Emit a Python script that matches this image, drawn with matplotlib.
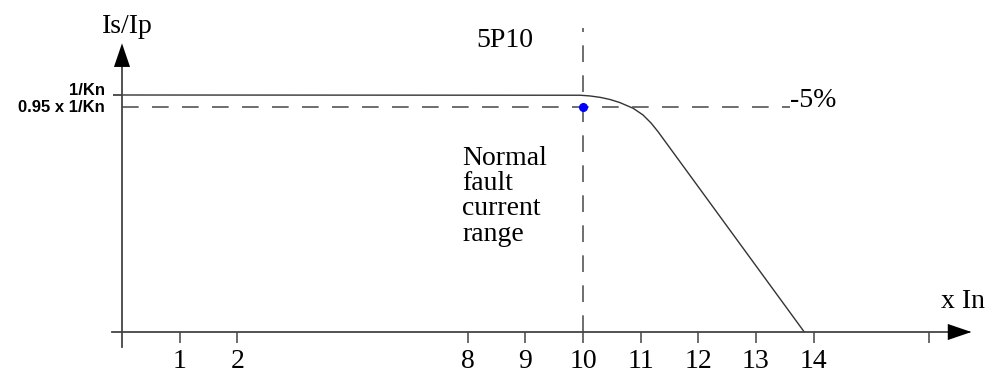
import numpy as np
import matplotlib.pyplot as plt

# saturation curve of a 5P10 CT, x in multiples of In, y in units of 1/Kn
curve_x = [0.0, 9.95, 10.12, 10.30, 10.47, 10.64, 10.87, 11.04, 11.18, 11.30, 13.84]
curve_y = [1.0, 0.999, 0.996, 0.990, 0.981, 0.968, 0.944, 0.916, 0.882, 0.846, 0.0]

tick_vals = [1, 2, 8, 9, 10, 11, 12, 13, 14, 16]
tick_labels = ["1", "2", "8", "9", "10", "11", "12", "13", "14", ""]

limit_x = 10        # 5P10 accuracy limit
limit_y = 0.95      # -5 %
dash_end_x = 13.59


def to_axis(x):
    # broken axis: 3..7 are left out
    x = np.asarray(x, dtype=float)
    return np.where(x <= 2, x, x - 2)


serif = "Liberation Serif"
sans = "Liberation Sans"
axis_col = "#444444"

fig = plt.figure(figsize=(9.9, 3.74), dpi=100)
ax = fig.add_axes([0, 0, 1, 1])
ax.set_xlim(-122 / 57.625, 868 / 57.625)
ax.set_ylim(-42 / 237, 332 / 237)

# axes through the origin
for s in ["top", "right"]:
    ax.spines[s].set_visible(False)
ax.spines["bottom"].set_position(("data", 0))
ax.spines["left"].set_position(("data", 0))
ax.spines["bottom"].set_bounds(-0.17, 14.7)
ax.spines["left"].set_bounds(-0.063, 1.2)
for s in ["bottom", "left"]:
    ax.spines[s].set_color(axis_col)
    ax.spines[s].set_linewidth(1.3)

ax.set_xticks(to_axis(tick_vals))
ax.set_xticklabels(tick_labels, fontfamily=serif, fontsize=20)
ax.tick_params(axis="x", direction="out", length=8, width=1.1, color=axis_col, pad=4)
ax.set_yticks([1])
ax.set_yticklabels([""])
ax.tick_params(axis="y", direction="out", length=6.5, width=1.1, color="#222222")

# arrow heads
arrow = dict(arrowstyle="-|>,head_length=1.7,head_width=0.58", mutation_scale=10,
             color="black", shrinkA=0, shrinkB=0, lw=0)
ax.annotate("", xy=(14.74, 0), xytext=(14.32, 0), arrowprops=arrow)
ax.annotate("", xy=(0, 1.218), xytext=(0, 1.12), arrowprops=arrow)

# curve
ax.plot(to_axis(curve_x), curve_y, color="#333333", lw=1.0)

# reference dashed lines
dash = (0, (10, 8))
ax.plot(to_axis([limit_x, limit_x]), [0, 1.283], color="#555555", lw=1.2, ls=dash)
ax.plot(to_axis([0, dash_end_x]), [limit_y, limit_y], color="#555555", lw=1.2, ls=dash)
ax.plot(to_axis([limit_x]), [limit_y], "o", color="#0000ff", ms=5.5)

# texts
ax.text(0.1, 1.291, "Is/Ip", fontfamily=serif, fontsize=20, ha="center", va="center")
ax.text(to_axis(9.13), 1.23, "5P10", fontfamily=serif, fontsize=20, ha="right", va="center")
ax.text(to_axis(dash_end_x), 0.975, "-5%", fontfamily=serif, fontsize=20, ha="left", va="center")
ax.text(to_axis(7.9), 0.785, "Normal\nfault\ncurrent\nrange", fontfamily=serif, fontsize=20,
        ha="left", va="top", linespacing=1.01)
ax.text(to_axis(16.6), 0.127, "x In", fontfamily=serif, fontsize=20, ha="center", va="center")
ax.text(-0.295, 1.017, "1/Kn", fontfamily=sans, fontsize=12, fontweight="bold",
        ha="right", va="center")
ax.text(-0.295, 0.949, "0.95 x 1/Kn", fontfamily=sans, fontsize=12, fontweight="bold",
        ha="right", va="center")

fig.savefig("out.png", dpi=100)
